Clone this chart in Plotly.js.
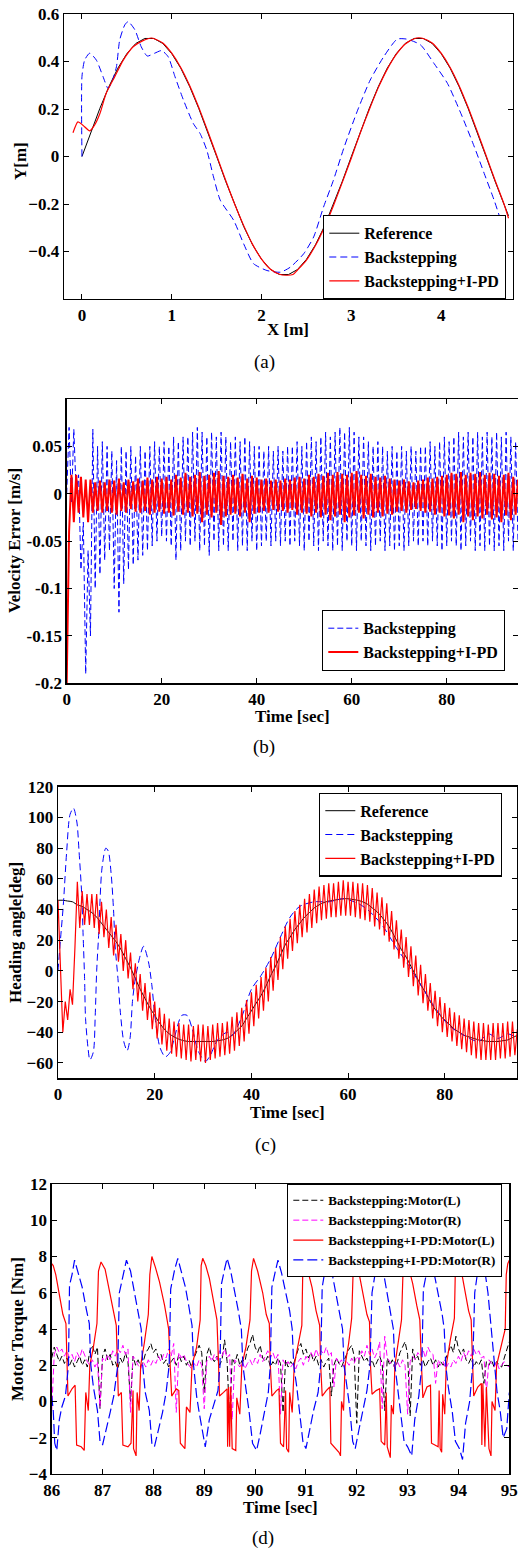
<!DOCTYPE html>
<html>
<head>
<meta charset="utf-8">
<script src="https://cdn.plot.ly/plotly-3.0.1.min.js"></script>
<style>html,body{margin:0;padding:0;background:#fff;}#chart{width:518px;height:1550px;}</style>
</head>
<body>
<div id="chart"></div>
<script>
// ---------------- Panel (a): trajectory ----------------
const refAx = [0,0.1,0.2,0.3,0.4,0.5,0.6,0.7,0.8,0.9,1.0,1.1,1.2,1.3,1.4,1.5,1.6,1.7,1.8,1.9,2.0,2.1,2.2,2.3,2.4,2.5,2.6,2.7,2.8,2.9,3.0,3.1,3.2,3.3,3.4,3.5,3.6,3.7,3.8,3.9,4.0,4.1,4.2,4.3,4.4,4.5,4.6,4.7,4.75];
const refAy = [0,0.104,0.203,0.294,0.372,0.433,0.476,0.497,0.497,0.476,0.433,0.372,0.294,0.203,0.104,0,-0.104,-0.203,-0.294,-0.372,-0.433,-0.476,-0.497,-0.497,-0.476,-0.433,-0.372,-0.294,-0.203,-0.104,0,0.104,0.203,0.294,0.372,0.433,0.476,0.497,0.497,0.476,0.433,0.372,0.294,0.203,0.104,0,-0.104,-0.203,-0.25];
const bsAx = [0,0.0,0.03,0.086,0.16,0.235,0.29,0.33,0.384,0.42,0.477,0.514,0.59,0.66,0.727,0.81,0.887,0.96,1.036,1.13,1.24,1.315,1.39,1.465,1.54,1.69,1.80,1.91,2.06,2.21,2.32,2.47,2.58,2.69,2.80,2.92,3.07,3.21,3.36,3.51,3.62,3.77,3.92,4.07,4.22,4.37,4.48,4.59,4.67];
const bsAy = [0,0.336,0.406,0.435,0.406,0.336,0.287,0.31,0.378,0.49,0.554,0.568,0.533,0.462,0.423,0.435,0.446,0.42,0.336,0.238,0.139,0.097,0.027,-0.086,-0.184,-0.269,-0.367,-0.451,-0.48,-0.487,-0.466,-0.409,-0.339,-0.213,-0.1,0.04,0.195,0.322,0.42,0.494,0.494,0.47,0.392,0.308,0.181,0.04,-0.072,-0.184,-0.276];
const pdAx = [-0.1,-0.045,0.01,0.086,0.14,0.2,0.27,0.365,0.46,0.57,0.68,0.775,0.9,1.0,1.1,1.2,1.3,1.4,1.5,1.6,1.7,1.8,1.9,2.0,2.1,2.2,2.27,2.35,2.4,2.5,2.6,2.7,2.8,2.9,3.0,3.1,3.2,3.3,3.4,3.5,3.6,3.7,3.75,3.8,3.9,4.0,4.1,4.2,4.3,4.4,4.5,4.6,4.7,4.75];
const pdAy = [0.1,0.146,0.132,0.108,0.132,0.181,0.266,0.336,0.406,0.462,0.488,0.499,0.478,0.435,0.375,0.298,0.207,0.108,0.004,-0.1,-0.2,-0.29,-0.37,-0.432,-0.475,-0.496,-0.5,-0.497,-0.478,-0.436,-0.375,-0.298,-0.207,-0.108,-0.006,0.1,0.198,0.29,0.368,0.43,0.474,0.496,0.5,0.497,0.478,0.435,0.375,0.298,0.207,0.108,0.004,-0.1,-0.2,-0.26];

// ---------------- Panel (b): velocity error (t = 0 .. 95, every 0.5 s) ----------------
const velT0 = 0, velDt = 0.5;
const velBs = [
0.0,0.07,-0.01,0.068,0.0,0.02,-0.08,-0.03,-0.19,-0.06,
-0.15,0.068,-0.1,0.05,-0.085,0.055,-0.07,0.05,-0.06,0.045,
-0.1,0.035,-0.125,0.05,-0.095,0.045,-0.08,0.05,-0.075,0.04,
-0.07,0.05,-0.065,0.045,-0.06,0.05,-0.055,0.055,-0.05,0.05,
-0.045,0.055,-0.05,0.05,-0.055,0.06,-0.07,0.055,-0.06,0.06,
-0.05,0.06,-0.055,0.065,-0.05,0.07,-0.06,0.065,-0.055,0.06,
-0.065,0.065,-0.05,0.06,-0.06,0.065,-0.055,0.06,-0.06,0.055,
-0.05,0.06,-0.06,0.055,-0.055,0.06,-0.06,0.055,-0.05,0.05,
-0.06,0.05,-0.055,0.045,-0.05,0.05,-0.055,0.045,-0.05,0.05,
-0.055,0.045,-0.05,0.05,-0.055,0.05,-0.05,0.055,-0.055,0.05,
-0.06,0.055,-0.05,0.06,-0.055,0.055,-0.06,0.06,-0.05,0.065,
-0.055,0.06,-0.06,0.065,-0.055,0.07,-0.06,0.065,-0.05,0.07,
-0.055,0.065,-0.06,0.06,-0.05,0.06,-0.055,0.055,-0.06,0.05,
-0.055,0.055,-0.05,0.05,-0.06,0.045,-0.055,0.05,-0.06,0.045,
-0.055,0.05,-0.06,0.045,-0.055,0.05,-0.05,0.045,-0.055,0.05,
-0.05,0.05,-0.055,0.055,-0.05,0.05,-0.055,0.055,-0.06,0.06,
-0.055,0.055,-0.05,0.06,-0.055,0.065,-0.06,0.06,-0.055,0.065,
-0.05,0.06,-0.06,0.065,-0.055,0.06,-0.06,0.065,-0.055,0.06,
-0.06,0.065,-0.055,0.06,-0.06,0.065,-0.05,0.06,-0.06,0.055,
-0.05];
const velPd = [
-0.2,-0.04,0.02,-0.03,0.02,-0.02,0.018,-0.025,0.015,-0.03,
0.015,-0.02,0.012,-0.018,0.014,-0.02,0.012,-0.018,0.015,-0.02,
0.014,-0.022,0.016,-0.018,0.012,-0.02,0.015,-0.016,0.013,-0.019,
0.016,-0.02,0.014,-0.018,0.017,-0.022,0.015,-0.02,0.018,-0.019,
0.016,-0.021,0.018,-0.02,0.015,-0.023,0.02,-0.019,0.017,-0.022,
0.022,-0.02,0.018,-0.024,0.02,-0.021,0.023,-0.03,0.019,-0.022,
0.02,-0.025,0.022,-0.02,0.024,-0.033,0.019,-0.024,0.018,-0.022,
0.02,-0.021,0.017,-0.024,0.021,-0.02,0.016,-0.03,0.019,-0.021,
0.017,-0.02,0.015,-0.018,0.016,-0.02,0.014,-0.017,0.015,-0.019,
0.014,-0.018,0.016,-0.02,0.015,-0.017,0.017,-0.022,0.018,-0.02,
0.016,-0.021,0.02,-0.024,0.018,-0.02,0.021,-0.025,0.019,-0.022,
0.022,-0.028,0.02,-0.024,0.023,-0.022,0.021,-0.03,0.02,-0.025,
0.022,-0.023,0.024,-0.02,0.02,-0.026,0.019,-0.022,0.021,-0.025,
0.018,-0.02,0.017,-0.024,0.019,-0.021,0.016,-0.022,0.015,-0.019,
0.014,-0.018,0.015,-0.02,0.013,-0.017,0.012,-0.016,0.014,-0.018,
0.015,-0.02,0.017,-0.019,0.016,-0.022,0.018,-0.02,0.019,-0.024,
0.02,-0.023,0.022,-0.026,0.021,-0.022,0.023,-0.03,0.02,-0.024,
0.022,-0.028,0.021,-0.024,0.023,-0.026,0.02,-0.022,0.022,-0.027,
0.021,-0.025,0.019,-0.03,0.02,-0.023,0.022,-0.028,0.018,-0.022,
0.015];

// ---------------- Panel (c): heading angle ----------------
const headRefT0 = 0, headRefDt = 1;
const headRef = [
46,46,45.5,45,43,42,40,38,35,31,
27,23,19,14,8,2,-5,-12,-18,-24,
-29,-34,-38,-41,-43,-44.5,-45.5,-46,-46,-46,
-46,-46,-46,-45.5,-45,-44,-42,-39,-36,-31,
-26,-21,-16,-10,-3,3,10,17,22,27,
31,35,38,41,43,44.5,45.5,46,46.5,47,
47,46.5,46,45,43.5,41,38.5,35,31,26,
20,14,9,3,-3,-9,-14,-20,-25,-29,
-32,-35,-38,-40,-42,-43,-44,-45,-45.5,-46,
-46,-46,-45.5,-45,-43.5,-42];
const headBsT = [0,0.5,1.1,1.8,2.5,3.2,3.9,4.35,4.9,5.2,5.5,5.7,6.2,6.6,7.3,7.7,8,8.4,9.1,9.9,10.4,11,11.5,11.8,12.4,12.9,13.6,14.3,14.9,15.4,16,17,17.7,18.7,19.4,20.1,21.1,22.2,23.2,24.2,25.6,26.7,27.7,29.1,30.5,31.5,33,35,36,38,40,42,44,46,48,50,53,56,59,62,64,67,70,72,75,78,81,84,87,89,91,93,95];
const headBs = [0,20,43,78,102,106,97,78,50,23,-5,-31,-50,-58,-53,-29,0,23,67,80,78,63,39,17,-5,-27,-46,-52,-44,-20,-5,10,16,6,-9,-31,-50,-56,-53,-42,-29,-29,-37,-53,-59,-55,-45,-40,-42,-30,-12,-3,8,22,35,42,45,45,47,44,40,30,15,6,-9,-24,-36,-42,-46,-41,-44,-41,-44];
const headPdT0 = 0, headPdDt = 0.5;
const headPd = [
46,0,-40,-20,-32,-12,-22,15,58,28,
52,30,50,30,50,28,50,24,45,22,
40,15,35,10,30,6,24,0,20,-5,
12,-12,5,-20,-2,-26,-8,-32,-14,-38,
-20,-44,-24,-48,-28,-52,-31,-54,-33,-56,
-34,-57,-35,-58,-35,-59,-36,-58,-35,-59,
-35,-60,-36,-58,-35,-57,-34,-56,-34,-55,
-33,-54,-30,-52,-27,-49,-24,-46,-19,-41,
-14,-36,-9,-31,-4,-26,2,-20,9,-13,
15,-6,22,1,29,8,34,13,39,18,
43,22,47,25,50,28,53,31,55,33,
56,34,57,35,57,35,58,36,59,36,
58,36,58,35,57,34,57,33,56,32,
54,29,51,27,48,23,44,19,39,14,
33,8,27,2,22,-4,16,-10,10,-16,
4,-21,-2,-26,-8,-31,-13,-36,-17,-40,
-21,-43,-24,-46,-27,-49,-29,-51,-31,-53,
-32,-55,-33,-57,-34,-58,-34,-58,-35,-58,
-34,-58,-34,-57,-34,-57,-33,-56,-33,-55,
-38];

// ---------------- Panel (d): motor torque ----------------
const tqBsT0 = 86, tqBsDt = 0.05;
const tqBsL = [
2.4,3.0,2.6,2.2,2.5,2.1,2.4,2.0,2.3,1.9,
2.2,2.5,2.0,2.3,1.9,2.8,3.1,2.6,3.0,-0.4,
2.5,2.9,2.3,2.6,2.0,2.2,1.8,2.4,2.1,2.7,
2.2,0.0,2.5,2.0,2.3,1.9,2.2,2.7,2.9,3.2,
2.7,2.9,2.4,2.6,2.1,2.3,1.9,2.2,2.4,2.0,
2.6,2.2,2.5,2.0,2.3,1.9,2.4,2.8,3.1,2.7,
0.5,2.6,3.0,2.4,2.2,2.5,2.0,2.3,3.4,2.2,
-1.0,2.4,2.1,2.6,2.0,2.3,2.2,2.9,3.2,3.7,
3.0,2.7,3.1,2.4,2.2,2.5,1.9,2.2,2.0,2.4,
2.1,-0.6,2.3,1.9,2.2,2.0,2.5,2.9,3.2,2.6,
2.9,2.4,2.7,2.2,2.5,2.0,2.3,1.9,2.2,2.4,
0.3,2.0,2.4,2.1,1.9,2.3,2.6,2.9,3.1,2.5,
-1.2,2.8,2.5,2.2,2.4,2.0,2.3,1.9,2.2,2.5,
2.1,-0.5,2.4,2.0,2.3,1.8,2.2,2.7,3.0,3.3,
2.6,-0.8,2.9,2.3,2.5,2.0,2.3,1.9,2.2,2.4,
2.0,2.3,1.9,2.2,2.0,2.4,2.8,3.1,2.7,3.6,
2.9,2.6,2.9,2.3,2.1,2.4,1.9,2.2,2.0,2.3,
1.0,2.2,2.0,2.3,1.9,2.2,2.0,1.9,2.4,2.8,3.3];
const tqBsR = [
-0.5,2.6,3.0,2.7,2.9,2.5,2.8,2.4,2.6,2.2,
2.7,2.4,2.9,2.5,2.2,2.0,2.3,1.9,2.2,-0.3,
2.4,2.2,2.6,2.3,2.8,2.5,2.9,2.7,3.1,2.6,
2.9,-0.6,2.5,2.3,2.0,1.8,2.2,1.9,2.3,2.0,
2.3,2.1,2.5,2.2,2.6,2.4,2.9,2.5,3.2,-0.6,
2.7,2.4,2.6,2.2,2.0,1.8,2.1,1.9,2.3,2.0,
-0.4,2.2,2.5,2.2,2.6,2.3,2.8,2.5,2.9,2.4,
2.6,-1.0,2.3,2.1,1.9,2.2,1.8,2.1,2.3,2.0,
2.4,2.1,2.6,2.2,2.5,2.8,2.4,2.7,2.3,2.6,
-0.7,2.3,2.0,2.2,1.9,2.1,1.8,2.2,2.4,2.0,
2.5,2.2,2.7,2.4,2.9,2.5,2.8,2.6,3.0,2.5,
2.7,0.8,2.4,2.1,2.3,1.9,2.2,2.0,2.4,2.1,
2.5,2.3,2.8,2.5,3.1,2.6,2.9,2.4,2.7,3.3,
-0.4,3.6,2.4,2.2,2.0,1.9,2.2,1.9,2.3,2.0,
-0.7,2.2,2.5,2.3,2.7,2.5,2.9,2.4,3.0,2.7,
2.6,1.0,2.3,2.0,2.2,1.8,2.1,1.9,2.3,2.1,
2.5,2.2,2.7,2.4,2.8,2.5,2.9,2.6,2.8,2.4,
2.5,0.5,2.3,2.1,1.9,2.2,1.8,2.0,2.2,2.0,1.9];
const tqPdLT = [
86.00,86.03,86.08,86.15,86.22,86.28,86.30,86.32,86.40,86.46,86.49,86.58,86.64,86.67,86.72,86.75,86.82,86.89,86.92,
86.97,87.05,87.12,87.20,87.27,87.29,87.31,87.37,87.40,87.50,87.56,87.60,87.61,87.66,87.68,87.72,87.75,87.82,87.90,87.93,
87.97,88.04,88.12,88.22,88.30,88.33,88.36,88.45,88.50,88.53,88.58,88.62,88.65,88.72,88.76,88.85,88.92,88.94,
88.97,89.03,89.10,89.18,89.25,89.28,89.30,89.38,89.45,89.46,89.48,89.50,89.52,89.55,89.62,89.64,89.70,89.74,89.82,89.90,89.93,
89.97,90.05,90.15,90.22,90.28,90.30,90.33,90.42,90.47,90.50,90.56,90.60,90.62,90.66,90.68,90.73,90.77,90.85,90.92,90.94,
90.97,91.03,91.12,91.20,91.27,91.29,91.32,91.40,91.47,91.49,91.56,91.65,91.68,91.70,91.74,91.77,91.84,91.90,91.93,
91.96,92.03,92.12,92.20,92.25,92.27,92.30,92.38,92.45,92.48,92.55,92.58,92.60,92.66,92.68,92.72,92.75,92.82,92.88,92.91,
92.94,93.02,93.10,93.18,93.24,93.27,93.30,93.38,93.45,93.47,93.55,93.60,93.62,93.64,93.67,93.69,93.73,93.76,93.84,93.92,93.94,
93.97,94.05,94.12,94.20,94.25,94.28,94.30,94.38,94.45,94.46,94.48,94.52,94.55,94.60,94.64,94.66,94.72,94.75,94.84,94.92,94.94,94.97,95.00];
const tqPdL = [
7.6,7.5,7.0,6.0,4.8,4.3,2.2,0.3,0.7,0.9,-2.4,-2.5,-2.7,0.5,-0.5,2.0,3.0,4.3,7.2,
7.7,7.3,6.3,5.0,4.2,2.3,0.3,0.5,-2.4,-2.5,-2.3,0.6,-2.6,-3.0,0.5,-0.5,2.0,3.2,4.8,7.0,
8.0,7.4,6.6,5.3,4.0,2.0,0.3,0.7,0.6,-2.3,-2.5,-2.6,-0.3,-0.6,2.0,3.0,4.5,7.5,
7.9,7.5,6.8,5.6,4.5,2.2,0.3,0.5,0.7,-2.5,0.8,-2.5,0.8,-2.6,-2.7,0.2,-0.7,2.0,3.0,4.5,7.2,
7.9,7.2,6.0,4.8,4.3,2.0,0.3,0.6,0.7,-2.3,-2.5,0.6,-2.6,-2.8,0.5,-0.6,2.0,3.2,4.2,7.5,
7.8,7.3,6.3,5.0,4.2,2.0,0.3,0.6,0.8,-2.3,-2.5,-2.8,-3.0,0.0,-0.5,2.0,3.2,4.6,7.3,
7.8,7.3,6.0,4.8,4.4,2.0,0.4,0.6,0.7,-2.2,-2.4,0.5,-2.5,-3.1,-0.2,-0.7,2.0,3.3,4.5,7.2,
7.6,7.4,6.5,5.3,4.5,2.2,0.2,0.8,0.9,-2.3,-2.4,-2.5,0.6,-2.6,-2.8,0.4,-0.7,2.0,3.4,4.6,7.4,
8.0,7.3,6.3,5.0,4.5,2.2,0.3,0.8,1.0,-2.4,1.0,-2.5,0.8,-2.6,-3.0,0.0,-0.5,2.0,3.0,4.0,7.0,7.6,7.8];
const tqPdRT = [
86.00,86.03,86.06,86.10,86.15,86.20,86.27,86.33,86.35,86.40,86.45,86.52,86.60,86.68,86.74,86.77,86.82,86.90,86.95,
87.00,87.07,87.15,87.22,87.30,87.33,87.40,87.47,87.55,87.62,87.70,87.76,87.79,87.84,87.92,87.97,
88.02,88.10,88.18,88.25,88.31,88.34,88.42,88.48,88.55,88.63,88.70,88.76,88.79,88.85,88.90,88.96,
89.02,89.10,89.18,89.27,89.31,89.34,89.40,89.45,89.52,89.60,89.67,89.73,89.76,89.82,89.88,89.95,
90.03,90.10,90.18,90.26,90.30,90.33,90.40,90.45,90.52,90.60,90.68,90.73,90.76,90.82,90.88,90.94,
91.00,91.08,91.15,91.24,91.29,91.32,91.38,91.45,91.52,91.60,91.67,91.72,91.75,91.80,91.86,91.92,
91.97,92.04,92.12,92.20,92.26,92.30,92.37,92.45,92.52,92.60,92.67,92.72,92.75,92.80,92.86,92.93,
93.00,93.08,93.14,93.22,93.28,93.31,93.38,93.45,93.52,93.60,93.68,93.72,93.75,93.80,93.88,93.94,
94.02,94.08,94.14,94.22,94.28,94.32,94.40,94.45,94.52,94.58,94.63,94.67,94.70,94.76,94.82,94.88,94.95,95.00];
const tqPdR = [
0.3,-0.5,-2.3,-2.7,-1.0,-0.3,0.3,2.0,6.4,7.0,7.8,7.1,6.3,5.1,4.3,2.0,0.8,-0.5,-2.2,
-2.4,-1.6,-0.6,0.3,2.0,6.0,7.0,7.8,7.2,6.2,5.0,4.0,2.0,0.5,-0.5,-2.3,
-2.5,-1.5,-0.6,0.5,2.0,6.2,7.3,7.9,7.2,6.3,5.2,4.2,2.0,0.3,-0.6,-1.5,
-2.5,-1.0,-0.3,0.6,2.0,6.5,7.3,7.9,7.2,6.1,5.0,4.0,2.0,0.7,-0.5,-2.3,
-2.7,-1.8,-0.6,0.5,2.0,6.3,7.2,7.8,7.1,6.0,5.0,4.0,2.0,0.8,-0.6,-2.2,
-2.6,-1.5,-0.5,0.5,2.0,6.3,7.3,7.6,7.0,5.8,4.8,4.0,2.0,0.8,-0.3,-2.2,
-2.6,-1.6,-0.4,0.6,2.0,6.0,7.2,7.8,7.2,6.0,4.8,4.0,2.0,0.8,-0.5,-2.2,
-2.5,-3.0,-1.0,0.3,2.0,6.2,7.2,7.8,7.1,6.0,4.8,4.0,2.0,0.8,-0.6,-2.2,
-2.6,-3.2,-1.2,0.0,2.0,6.0,7.6,7.9,7.2,6.0,4.5,3.0,2.0,0.5,-0.5,-2.0,-1.5,0.5];

// ---------------- labels ----------------
const nameRef = 'Reference', nameBs = 'Backstepping', namePd = 'Backstepping+I-PD';
const namesD = ['Backstepping:Motor(L)','Backstepping:Motor(R)','Backstepping+I-PD:Motor(L)','Backstepping+I-PD:Motor(R)'];
const ticksAx = [0,1,2,3,4], ticksAy = [-0.4,-0.2,0,0.2,0.4,0.6];
const ticksBx = [0,20,40,60,80], ticksBy = [-0.2,-0.15,-0.1,-0.05,0,0.05];
const tickTextBy = ['-0.2','-0.15','-0.1','-0.05','0','0.05'];
const ticksCx = [0,20,40,60,80], ticksCy = [-60,-40,-20,0,20,40,60,80,100,120];
const ticksDx = [86,87,88,89,90,91,92,93,94,95], ticksDy = [-4,-2,0,2,4,6,8,10,12];

// ---------------- drawing ----------------
const W = 518, H = 1550;
const SERIF = 'Liberation Serif, Times New Roman, serif';
const BLUE = '#0000ff', RED = '#ff0000', MAG = '#ff00ff';
const DASH = '7px,4px';
function dx(a, b) { return [a / W, Math.min(1, b / W)]; }
function dy(top, bot) { return [1 - bot / H, 1 - top / H]; }
function px(x) { return x / W; }
function py(y) { return 1 - y / H; }

function axis(domain, range, tickvals, ticktext, anchor, tsize) {
  const a = {
    domain: domain, range: range, anchor: anchor,
    tickmode: 'array', tickvals: tickvals,
    showline: true, linecolor: '#000', linewidth: 1.3, mirror: 'ticks',
    ticks: 'inside', ticklen: 5, tickwidth: 1, tickcolor: '#000',
    showgrid: false, zeroline: false, fixedrange: true,
    tickfont: {family: SERIF, size: tsize || 17, color: '#000', weight: 'bold'}
  };
  if (ticktext) a.ticktext = ticktext;
  return a;
}

const traces = [
  // (a)
  {x: refAx, y: refAy, xaxis: 'x', yaxis: 'y', mode: 'lines', name: nameRef, line: {color: '#000', width: 1}, legend: 'legend'},
  {x: bsAx, y: bsAy, xaxis: 'x', yaxis: 'y', mode: 'lines', name: nameBs, line: {color: BLUE, width: 1, dash: DASH, shape: 'spline', smoothing: 0.6}, legend: 'legend'},
  {x: pdAx, y: pdAy, xaxis: 'x', yaxis: 'y', mode: 'lines', name: namePd, line: {color: RED, width: 1.2, shape: 'spline', smoothing: 0.6}, legend: 'legend'},
  // (b)
  {y: velBs, x0: velT0, dx: velDt, xaxis: 'x2', yaxis: 'y2', mode: 'lines', name: nameBs, line: {color: BLUE, width: 1, dash: '6px,3px'}, legend: 'legend2'},
  {y: velPd, x0: velT0, dx: velDt, xaxis: 'x2', yaxis: 'y2', mode: 'lines', name: namePd, line: {color: RED, width: 2}, legend: 'legend2'},
  // (c)
  {y: headRef, x0: headRefT0, dx: headRefDt, xaxis: 'x3', yaxis: 'y3', mode: 'lines', name: nameRef, line: {color: '#000', width: 1, shape: 'spline', smoothing: 0.8}, legend: 'legend3'},
  {x: headBsT, y: headBs, xaxis: 'x3', yaxis: 'y3', mode: 'lines', name: nameBs, line: {color: BLUE, width: 1, dash: DASH, shape: 'spline', smoothing: 0.8}, legend: 'legend3'},
  {y: headPd, x0: headPdT0, dx: headPdDt, xaxis: 'x3', yaxis: 'y3', mode: 'lines', name: namePd, line: {color: RED, width: 1.2}, legend: 'legend3'},
  // (d)
  {y: tqBsL, x0: tqBsT0, dx: tqBsDt, xaxis: 'x4', yaxis: 'y4', mode: 'lines', name: namesD[0], line: {color: '#000', width: 1, dash: '6px,3px'}, legend: 'legend4'},
  {y: tqBsR, x0: tqBsT0, dx: tqBsDt, xaxis: 'x4', yaxis: 'y4', mode: 'lines', name: namesD[1], line: {color: MAG, width: 1, dash: '6px,3px'}, legend: 'legend4'},
  {x: tqPdLT, y: tqPdL, xaxis: 'x4', yaxis: 'y4', mode: 'lines', name: namesD[2], line: {color: RED, width: 1.2}, legend: 'legend4'},
  {x: tqPdRT, y: tqPdR, xaxis: 'x4', yaxis: 'y4', mode: 'lines', name: namesD[3], line: {color: BLUE, width: 1.2, dash: '10px,4px'}, legend: 'legend4'}
];

function legendAt(x, y, size, anchor) {
  return {x: px(x), y: py(y), xanchor: 'left', yanchor: anchor, xref: 'paper', yref: 'paper',
    bgcolor: '#fff', bordercolor: '#000', borderwidth: 1.3, tracegroupgap: 0,
    font: {family: SERIF, size: size, color: '#000', weight: 'bold'}};
}

function title(text, x, y, rot, size) {
  return {text: text, x: px(x), y: py(y), xref: 'paper', yref: 'paper', showarrow: false,
    xanchor: 'center', yanchor: 'middle', textangle: rot || 0,
    font: {family: SERIF, size: size || 17, color: '#000', weight: 'bold'}};
}
function caption(text, x, y) {
  return {text: text, x: px(x), y: py(y), xref: 'paper', yref: 'paper', showarrow: false,
    xanchor: 'center', yanchor: 'middle', font: {family: SERIF, size: 19, color: '#000'}};
}

const layout = {
  width: W, height: H, margin: {l: 0, r: 0, t: 0, b: 0},
  paper_bgcolor: '#fff', plot_bgcolor: '#fff', showlegend: true,
  xaxis: axis(dx(64, 513), [-0.2, 4.8], ticksAx, null, 'y'),
  yaxis: axis(dy(14, 299), [-0.6, 0.6], ticksAy, null, 'x'),
  xaxis2: axis(dx(66.7, 518), [0, 95], ticksBx, null, 'y2'),
  yaxis2: axis(dy(399, 683.3), [-0.2, 0.1], ticksBy, tickTextBy, 'x2'),
  xaxis3: axis(dx(58, 517.3), [0, 95], ticksCx, null, 'y3'),
  yaxis3: axis(dy(786.7, 1078.3), [-70, 120], ticksCy, null, 'x3'),
  xaxis4: axis(dx(51.7, 509.3), [86, 95], ticksDx, null, 'y4'),
  yaxis4: axis(dy(1184, 1474), [-4, 12], ticksDy, null, 'x4'),
  legend: legendAt(323, 299, 16, 'bottom'),
  legend2: legendAt(322, 671, 16, 'bottom'),
  legend3: legendAt(319, 792.5, 16, 'top'),
  legend4: legendAt(287, 1184, 13, 'top'),
  annotations: [
    title('Y[m]', 20, 161, -90), title('X [m]', 288, 329),
    title('Velocity Error [m/s]', 14, 541, -90), title('Time [sec]', 292, 716),
    title('Heading angle[deg]', 15, 933, -90), title('Time [sec]', 287, 1112),
    title('Motor Torque [Nm]', 17, 1329, -90), title('Time [sec]', 280, 1507),
    caption('(a)', 264, 362), caption('(b)', 264, 747), caption('(c)', 265, 1145), caption('(d)', 263, 1538)
  ]
};

Plotly.newPlot('chart', traces, layout, {staticPlot: true, displayModeBar: false});
</script>
</body>
</html>
